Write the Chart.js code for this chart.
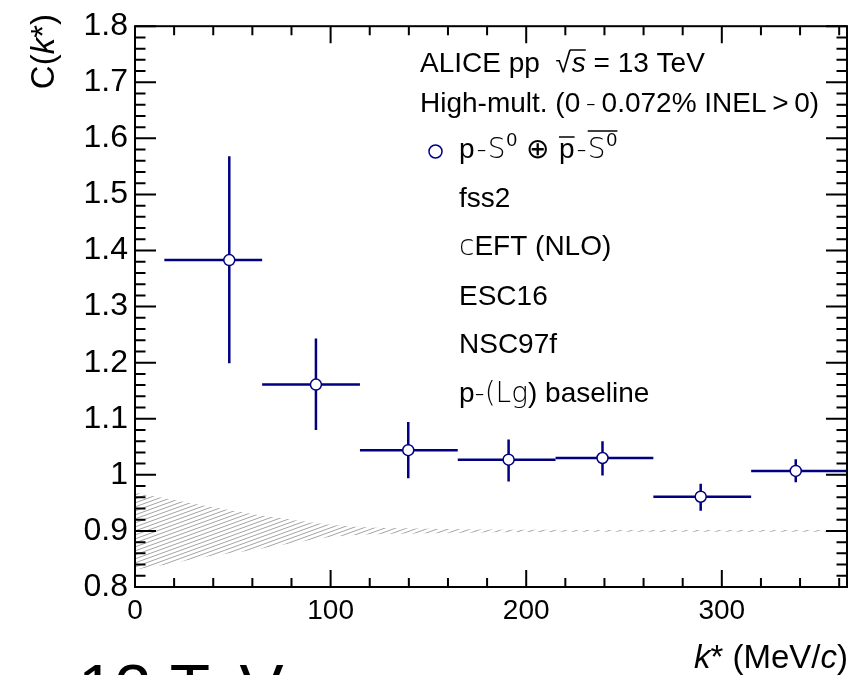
<!DOCTYPE html>
<html>
<head>
<meta charset="utf-8">
<script src="https://cdn.jsdelivr.net/npm/chart.js@4.4.1/dist/chart.umd.min.js"></script>
<style>
html, body { margin: 0; padding: 0; background: #fff; }
#wrap { width: 859px; height: 675px; }
</style>
</head>
<body>
<div id="wrap"><canvas id="chart" width="859" height="675"></canvas></div>
<script>
// measured p-S0 correlation, k* bins in MeV/c
const kCentre = [48.2, 92.5, 139.7, 191, 239, 289.2, 337.8];
const kLow = [15, 65, 115, 165, 215, 265, 315];
const kHigh = [65, 115, 165, 215, 265, 315, 365];
const cValue = [1.383, 1.161, 1.044, 1.027, 1.030, 0.961, 1.007];
const cUp = [1.568, 1.243, 1.094, 1.063, 1.060, 0.984, 1.028];
const cDown = [1.199, 1.080, 0.994, 0.988, 0.999, 0.936, 0.987];

// p-(Lambda gamma) baseline band
const bandK = [0, 20, 40, 60, 80, 100, 120, 150, 200, 250, 300, 365];
const bandUp = [0.968, 0.955, 0.942, 0.930, 0.920, 0.911, 0.906, 0.904, 0.902, 0.9017, 0.9017, 0.9017];
const bandDown = [0.831, 0.843, 0.856, 0.866, 0.878, 0.889, 0.894, 0.896, 0.898, 0.8985, 0.8985, 0.8985];

const xTicks = [0, 100, 200, 300];
const xTickLabels = ["0", "100", "200", "300"];
const yTicks = [0.8, 0.9, 1.0, 1.1, 1.2, 1.3, 1.4, 1.5, 1.6, 1.7, 1.8];
const yTickLabels = ["0.8", "0.9", "1", "1.1", "1.2", "1.3", "1.4", "1.5", "1.6", "1.7", "1.8"];

const NAVY = "#000080";
const FAM = '"Liberation Sans", Arial, Helvetica, sans-serif';
const LIGHT = '200 28px "DejaVu Sans", sans-serif';
const NORM = "28px " + FAM;
const ITAL = "italic 28px " + FAM;
const SUP = "19px " + FAM;
const TNORM = "33px " + FAM;
const TITAL = "italic 33px " + FAM;

function makeHatch() {
    const c = document.createElement("canvas");
    c.width = 22;
    c.height = 8;
    const g = c.getContext("2d");
    g.strokeStyle = "#a4a4a4";
    g.lineWidth = 1;
    [-8, -4, 0, 4, 8].forEach(off => {
        g.beginPath();
        g.moveTo(-2, 8 + off + 8 * 2 / 22);
        g.lineTo(24, 8 + off - 8 * 24 / 22);
        g.stroke();
    });
    return g.createPattern(c, "repeat");
}

function drawRuns(ctx, x, y, runs) {
    runs.forEach(r => {
        ctx.font = r.f || NORM;
        const w = ctx.measureText(r.t).width;
        ctx.fillText(r.t, x, y + (r.dy || 0));
        if (r.over) {
            ctx.save();
            ctx.lineWidth = 1.5;
            ctx.beginPath();
            ctx.moveTo(x + (r.ox || 0), y - r.over);
            ctx.lineTo(x + w + (r.ow || 0), y - r.over);
            ctx.stroke();
            ctx.restore();
        }
        x += w + (r.gap || 0);
    });
    return x;
}

function runsWidth(ctx, runs) {
    let w = 0;
    runs.forEach(r => {
        ctx.font = r.f || NORM;
        w += ctx.measureText(r.t).width + (r.gap || 0);
    });
    return w;
}

const errorBars = {
    id: "errorBars",
    beforeDatasetDraw(chart, args) {
        if (args.index !== 2) return;
        const { ctx, chartArea: a, scales: { x, y } } = chart;
        ctx.save();
        ctx.beginPath();
        ctx.rect(a.left, a.top, a.right - a.left, a.bottom - a.top);
        ctx.clip();
        ctx.strokeStyle = NAVY;
        ctx.lineWidth = 2.5;
        kCentre.forEach((k, i) => {
            const px = x.getPixelForValue(k);
            const py = y.getPixelForValue(cValue[i]);
            ctx.beginPath();
            ctx.moveTo(x.getPixelForValue(kLow[i]), py);
            ctx.lineTo(x.getPixelForValue(kHigh[i]), py);
            ctx.moveTo(px, y.getPixelForValue(cUp[i]));
            ctx.lineTo(px, y.getPixelForValue(cDown[i]));
            ctx.stroke();
        });
        ctx.restore();
    }
};

const rootFrame = {
    id: "rootFrame",
    afterDraw(chart) {
        const { ctx, chartArea: a, scales: { x, y } } = chart;
        ctx.save();
        ctx.strokeStyle = "#000";
        ctx.lineWidth = 2;
        ctx.strokeRect(a.left, a.top, a.right - a.left, a.bottom - a.top);

        ctx.beginPath();
        // x ticks, every 20, major every 100
        for (let i = 0; i * 20 <= x.max; i++) {
            const px = x.getPixelForValue(i * 20);
            const len = i % 5 === 0 ? 17 : 9;
            ctx.moveTo(px, a.bottom);
            ctx.lineTo(px, a.bottom - len);
            ctx.moveTo(px, a.top);
            ctx.lineTo(px, a.top + len);
        }
        // y ticks, every 0.02, major every 0.1
        for (let i = 0; i <= 50; i++) {
            const py = y.getPixelForValue(0.8 + i * 0.02);
            const len = i % 5 === 0 ? 21 : 10.5;
            ctx.moveTo(a.left, py);
            ctx.lineTo(a.left + len, py);
            ctx.moveTo(a.right, py);
            ctx.lineTo(a.right - len, py);
        }
        ctx.stroke();

        ctx.fillStyle = "#000";
        ctx.strokeStyle = "#000";
        ctx.textAlign = "left";
        ctx.textBaseline = "alphabetic";

        // legend text block
        drawRuns(ctx, 420, 72, [
            { t: "ALICE pp  " },
            { t: "\u221A", gap: 1 },
            { t: "s", f: ITAL, over: 22, ox: -2 },
            { t: " = 13 TeV" }
        ]);
        drawRuns(ctx, 420, 112, [
            { t: "High-mult. (0\u2009" },
            { t: "-", f: LIGHT },
            { t: "\u20090.072% INEL\u2009>\u20090)" }
        ]);
        drawRuns(ctx, 459, 158, [
            { t: "p", gap: 2 },
            { t: "-", f: LIGHT, gap: 1 },
            { t: "S", f: LIGHT, gap: 1 },
            { t: "0", f: SUP, dy: -12, gap: 9 },
            { t: "\u2295", gap: 10 },
            { t: "p", over: 21, gap: 2 },
            { t: "-", f: LIGHT, gap: 1 },
            { t: "S", f: LIGHT, over: 27, ow: 12, gap: 1 },
            { t: "0", f: SUP, dy: -12 }
        ]);
        drawRuns(ctx, 459, 207, [{ t: "fss2" }]);
        drawRuns(ctx, 459, 255, [{ t: "c", f: LIGHT }, { t: "EFT (NLO)" }]);
        drawRuns(ctx, 459, 305, [{ t: "ESC16" }]);
        drawRuns(ctx, 459, 353, [{ t: "NSC97f" }]);
        drawRuns(ctx, 459, 402, [
            { t: "p" },
            { t: "-(L", f: LIGHT },
            { t: "g", f: LIGHT },
            { t: ") baseline" }
        ]);

        // legend marker
        ctx.beginPath();
        ctx.arc(435.5, 151.5, 6.5, 0, Math.PI * 2);
        ctx.fillStyle = "#fff";
        ctx.fill();
        ctx.strokeStyle = NAVY;
        ctx.lineWidth = 1.5;
        ctx.stroke();
        ctx.fillStyle = "#000";
        ctx.strokeStyle = "#000";

        // x axis title, right aligned to the frame
        const xTitle = [
            { t: "k", f: TITAL },
            { t: "* (MeV/", f: TNORM },
            { t: "c", f: TITAL },
            { t: ")", f: TNORM }
        ];
        drawRuns(ctx, 848 - runsWidth(ctx, xTitle), 668, xTitle);

        // y axis title, rotated, ending at the top of the frame
        const yTitle = [
            { t: "C(", f: TNORM },
            { t: "k", f: TITAL },
            { t: "*", f: TNORM },
            { t: ")", f: TNORM }
        ];
        const yw = runsWidth(ctx, yTitle);
        ctx.save();
        ctx.translate(54, 14 + yw);
        ctx.rotate(-Math.PI / 2);
        drawRuns(ctx, 0, 0, yTitle);
        ctx.restore();

        // stray large label cut by the lower edge
        ctx.font = "66px " + FAM;
        ctx.fillText("13 TeV", 78, 711);
        ctx.restore();
    }
};

const ctx = document.getElementById("chart");
const hatch = makeHatch();

new Chart(ctx, {
    type: "scatter",
    data: {
        datasets: [
            {
                type: "line",
                label: "baseline low",
                data: bandK.map((k, i) => ({ x: k, y: bandDown[i] })),
                borderColor: "rgba(0,0,0,0)",
                borderWidth: 0,
                pointRadius: 0,
                fill: false,
                tension: 0.3
            },
            {
                type: "line",
                label: "baseline high",
                data: bandK.map((k, i) => ({ x: k, y: bandUp[i] })),
                borderColor: "rgba(0,0,0,0)",
                borderWidth: 0,
                pointRadius: 0,
                backgroundColor: hatch,
                fill: "-1",
                tension: 0.3
            },
            {
                label: "data",
                data: kCentre.map((k, i) => ({ x: k, y: cValue[i] })),
                pointRadius: 5.5,
                pointStyle: "circle",
                pointBackgroundColor: "#fff",
                pointBorderColor: NAVY,
                pointBorderWidth: 1.5
            }
        ]
    },
    options: {
        responsive: false,
        animation: false,
        layout: { padding: { top: 16, right: 12, left: 0, bottom: 0 } },
        plugins: {
            legend: { display: false },
            tooltip: { enabled: false }
        },
        scales: {
            x: {
                type: "linear",
                min: 0,
                max: 364,
                afterBuildTicks: s => { s.ticks = xTicks.map(v => ({ value: v })); },
                afterFit: s => { s.height = 88; },
                grid: { display: false, drawTicks: false },
                border: { display: false },
                ticks: {
                    color: "#000",
                    font: { family: FAM, size: 28 },
                    padding: 7,
                    maxRotation: 0,
                    autoSkip: false,
                    callback: (v, i) => xTickLabels[i]
                }
            },
            y: {
                type: "linear",
                min: 0.8,
                max: 1.8,
                afterBuildTicks: s => { s.ticks = yTicks.map(v => ({ value: v })); },
                afterFit: s => { s.width = 135; },
                grid: { display: false, drawTicks: false },
                border: { display: false },
                ticks: {
                    color: "#000",
                    font: { family: FAM, size: 32 },
                    padding: 7,
                    autoSkip: false,
                    callback: (v, i) => yTickLabels[i]
                }
            }
        }
    },
    plugins: [errorBars, rootFrame]
});
</script>
</body>
</html>
